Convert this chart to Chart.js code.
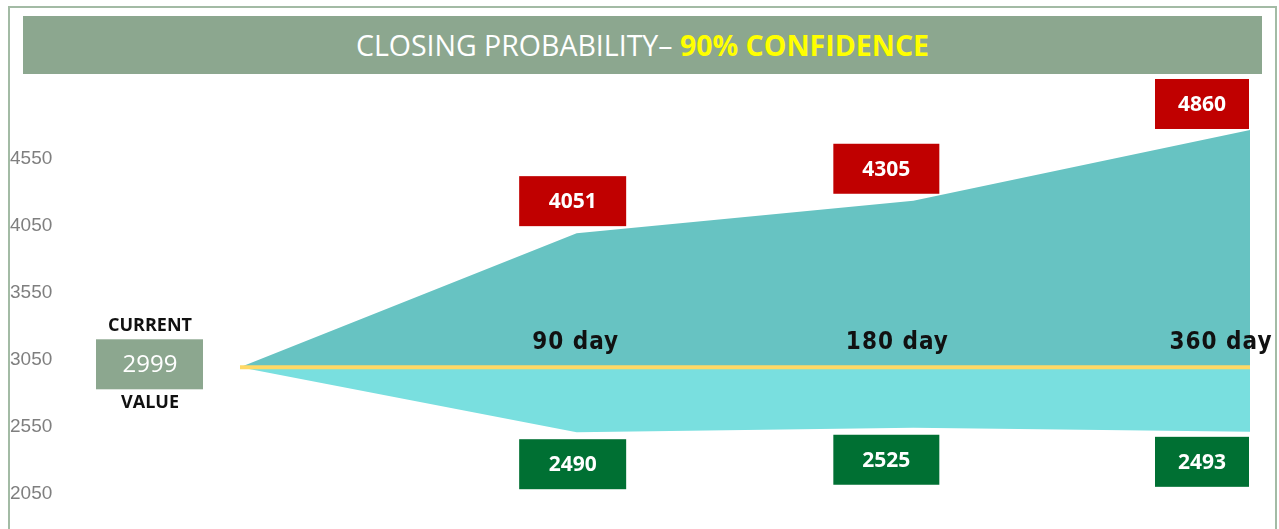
<!DOCTYPE html>
<html>
<head>
<meta charset="utf-8">
<script src="https://cdn.jsdelivr.net/npm/chart.js@4"></script>
<style>
    html, body { margin: 0; padding: 0; background: #fff; }
    body { width: 1279px; height: 529px; position: relative; overflow: hidden; }
    #frame {
        position: absolute; left: 8px; top: 6px; width: 1265px; height: 540px;
        border: 2px solid #a3bba5; border-bottom: none;
    }
    #title {
        position: absolute; left: 23px; top: 16px; width: 1239px; height: 58px;
        background: #8ca78f; color: #fff; text-align: center;
        font: 400 28.5px "Open Sans", sans-serif; line-height: 58px; letter-spacing: 0px;
    }
    #title b { color: #ffff00; font-weight: 700; }
    #wrap { position: absolute; left: 0; top: 0; width: 1279px; height: 529px; }
</style>
</head>
<body>
<div id="frame"></div>
<div id="wrap"><canvas id="chart"></canvas></div>
<div id="title">CLOSING PROBABILITY– <b>90% CONFIDENCE</b></div>

<script>
// Chart data
const periods = ['Current', '90 day', '180 day', '360 day'];
const currentValue = 2999;
const baseValues = [2999, 2999, 2999, 2999];
const upperValues = [2999, 4051, 4305, 4860];
const lowerValues = [2999, 2490, 2525, 2493];
const tickValues = [2050, 2550, 3050, 3550, 4050, 4550];

// Colours
const TEAL = '#67c3c2';
const CYAN = '#79dfdf';
const YELLOW = '#ffd966';
const RED = '#c00000';
const GREEN = '#007033';
const SAGE = '#8ca78f';

// Draws the labels, the value boxes and the current value box
const labelsPlugin = {
    id: 'rangeLabels',
    afterDatasetsDraw(chart) {
        const ctx = chart.ctx;
        const x = chart.scales.x;
        const y = chart.scales.y;
        const labelDx = [0, -1, -16, -29];
        const boxDx = [0, -4, -27, -48];
        const boxW = [0, 107, 106, 94];
        const boxH = 50;

        ctx.save();

        // period labels
        ctx.fillStyle = '#111';
        ctx.font = 'bold 24px "DejaVu Sans Condensed", "DejaVu Sans", sans-serif';
        ctx.letterSpacing = '1px';
        ctx.textAlign = 'center';
        ctx.textBaseline = 'alphabetic';
        for (let i = 1; i < periods.length; i++) {
            ctx.fillText(periods[i], x.getPixelForValue(i) + labelDx[i], 349);
        }
        ctx.letterSpacing = '0px';

        // value boxes
        ctx.font = 'bold 21px "Open Sans", sans-serif';
        ctx.textBaseline = 'middle';
        for (let i = 1; i < periods.length; i++) {
            const cx = x.getPixelForValue(i) + boxDx[i];
            const gapTop = i === 3 ? 1 : 7;
            const gapBot = i === 3 ? 5 : 7;

            const upY = y.getPixelForValue(upperValues[i]) - gapTop - boxH;
            ctx.fillStyle = RED;
            ctx.fillRect(cx - boxW[i] / 2, upY, boxW[i], boxH);
            ctx.fillStyle = '#fff';
            ctx.fillText(String(upperValues[i]), cx, upY + boxH / 2 + 1);

            const loY = y.getPixelForValue(lowerValues[i]) + gapBot;
            ctx.fillStyle = GREEN;
            ctx.fillRect(cx - boxW[i] / 2, loY, boxW[i], boxH);
            ctx.fillStyle = '#fff';
            ctx.fillText(String(lowerValues[i]), cx, loY + boxH / 2 + 1);
        }

        // current value box
        const cx = x.getPixelForValue(0) - 90;
        const cy = y.getPixelForValue(currentValue) - 3;
        ctx.fillStyle = SAGE;
        ctx.fillRect(cx - 54, cy - 25, 107, 50);
        ctx.fillStyle = '#fff';
        ctx.font = '24px "Open Sans", sans-serif';
        ctx.fillText(String(currentValue), cx, cy + 1);
        ctx.fillStyle = '#111';
        ctx.font = 'bold 18px "Open Sans", sans-serif';
        ctx.fillText('CURRENT', cx, cy - 38);
        ctx.fillText('VALUE', cx, cy + 39);

        ctx.restore();
    }
};

new Chart(document.getElementById('chart'), {
    type: 'line',
    data: {
        labels: periods,
        datasets: [
            {
                label: 'Current',
                data: baseValues,
                borderColor: YELLOW,
                borderWidth: 4,
                pointRadius: 0,
                fill: false
            },
            {
                label: 'Upper',
                data: upperValues,
                borderWidth: 0,
                borderColor: TEAL,
                backgroundColor: TEAL,
                pointRadius: 0,
                fill: '-1'
            },
            {
                label: 'Lower',
                data: lowerValues,
                borderWidth: 0,
                borderColor: CYAN,
                backgroundColor: CYAN,
                pointRadius: 0,
                fill: '-2'
            }
        ]
    },
    options: {
        responsive: true,
        maintainAspectRatio: false,
        animation: false,
        events: [],
        layout: { padding: { left: 10, right: 29, top: 80, bottom: 0 } },
        plugins: {
            legend: { display: false },
            tooltip: { enabled: false }
        },
        elements: { line: { tension: 0 } },
        scales: {
            x: {
                type: 'category',
                display: false,
                offset: false
            },
            y: {
                display: false,
                min: 1731,
                max: 5252
            },
            yTicks: {
                position: 'left',
                min: 1789,
                max: 5140,
                grid: { display: false },
                border: { display: false },
                ticks: {
                    crossAlign: 'far',
                    color: '#7f7f7f',
                    font: { family: '"Liberation Sans", sans-serif', size: 19 },
                    callback: v => String(v)
                },
                afterBuildTicks(scale) {
                    scale.ticks = tickValues.map(v => ({ value: v }));
                },
                afterFit(scale) {
                    scale.width = 230;
                    scale.paddingTop = 0;
                    scale.paddingBottom = 0;
                }
            }
        }
    },
    plugins: [labelsPlugin]
});
</script>
</body>
</html>
